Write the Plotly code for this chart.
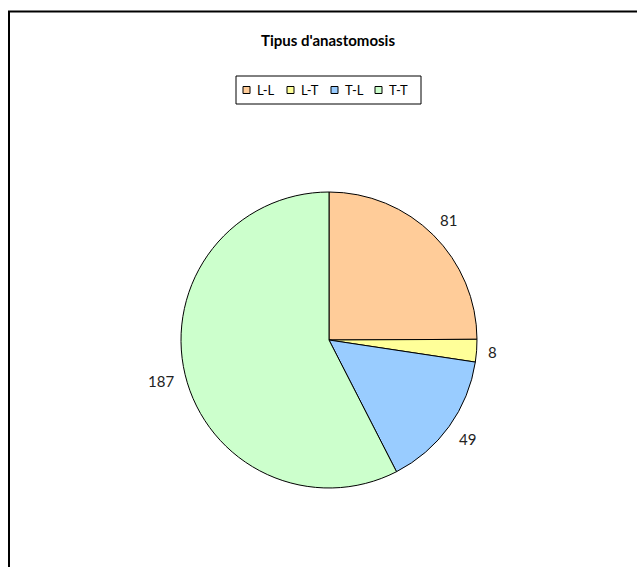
import math
import plotly.graph_objects as go

# Anastomosis types and case counts
categories = ["L-L", "L-T", "T-L", "T-T"]
counts = [81, 8, 49, 187]
slice_colors = ["#FFCC99", "#FFFF99", "#99CCFF", "#CCFFCC"]

W, H = 637, 567
FONT = "Lato, 'Open Sans', sans-serif"

# pie geometry in pixels (centre and radius)
CX, CY, R = 329, 340, 148
LABEL_SIZE = 15


def px(x):
    return x / W


def py(y):
    return 1 - y / H


fig = go.Figure(
    go.Pie(
        labels=categories,
        values=counts,
        sort=False,
        direction="clockwise",
        rotation=0,
        marker=dict(colors=slice_colors, line=dict(color="black", width=1)),
        textinfo="none",
        hoverinfo="label+value+percent",
        domain=dict(x=[px(CX - R), px(CX + R)], y=[py(CY + R), py(CY - R)]),
        showlegend=False,
    )
)

annotations = []
shapes = []

# value labels just outside each slice, on the slice's middle angle
total = sum(counts)
start = 0.0
for value in counts:
    mid = (start + value / 2) / total * 2 * math.pi
    start += value
    sx, sy = math.sin(mid), -math.cos(mid)
    text = str(value)
    half_w = 0.29 * LABEL_SIZE * len(text)
    half_h = 0.45 * LABEL_SIZE
    dist = R + 11 + half_w * abs(sx) + half_h * abs(sy)
    annotations.append(
        dict(
            x=px(CX + dist * sx),
            y=py(CY + dist * sy),
            xref="paper",
            yref="paper",
            text=text,
            showarrow=False,
            xanchor="center",
            yanchor="middle",
            font=dict(family=FONT, size=LABEL_SIZE, color="#222"),
        )
    )

# legend: bordered box with a small swatch and name per category
LEG_X0, LEG_X1, LEG_Y0, LEG_Y1 = 236, 421, 76, 104
LEG_START, LEG_PITCH, SW = 243, 44, 7
leg_mid = (LEG_Y0 + LEG_Y1) / 2
shapes.append(
    dict(
        type="rect", xref="paper", yref="paper",
        x0=px(LEG_X0), x1=px(LEG_X1), y0=py(LEG_Y1), y1=py(LEG_Y0),
        line=dict(color="black", width=1), fillcolor="white",
    )
)
for i, (name, color) in enumerate(zip(categories, slice_colors)):
    x = LEG_START + i * LEG_PITCH
    shapes.append(
        dict(
            type="rect", xref="paper", yref="paper",
            x0=px(x), x1=px(x + SW), y0=py(leg_mid + SW / 2), y1=py(leg_mid - SW / 2),
            line=dict(color="black", width=1), fillcolor=color,
        )
    )
    annotations.append(
        dict(
            x=px(x + SW + 5), y=py(leg_mid), xref="paper", yref="paper",
            text=name, showarrow=False, xanchor="left", yanchor="middle",
            font=dict(family=FONT, size=13, color="black"),
        )
    )

# outer chart frame, open past the right and bottom edges
shapes.append(
    dict(
        type="rect", xref="paper", yref="paper",
        x0=px(9), x1=1.05, y0=-0.05, y1=py(11.5),
        line=dict(color="black", width=2), fillcolor="rgba(0,0,0,0)",
        layer="below",
    )
)

fig.update_layout(
    width=W,
    height=H,
    margin=dict(l=0, r=0, t=0, b=0),
    paper_bgcolor="white",
    plot_bgcolor="white",
    title=dict(
        text="<b>Tipus d'anastomosis</b>",
        x=px(328),
        xanchor="center",
        y=py(41),
        yanchor="middle",
        font=dict(family=FONT, size=15, color="black"),
    ),
    showlegend=False,
    annotations=annotations,
    shapes=shapes,
)

fig.write_html("out.html")
